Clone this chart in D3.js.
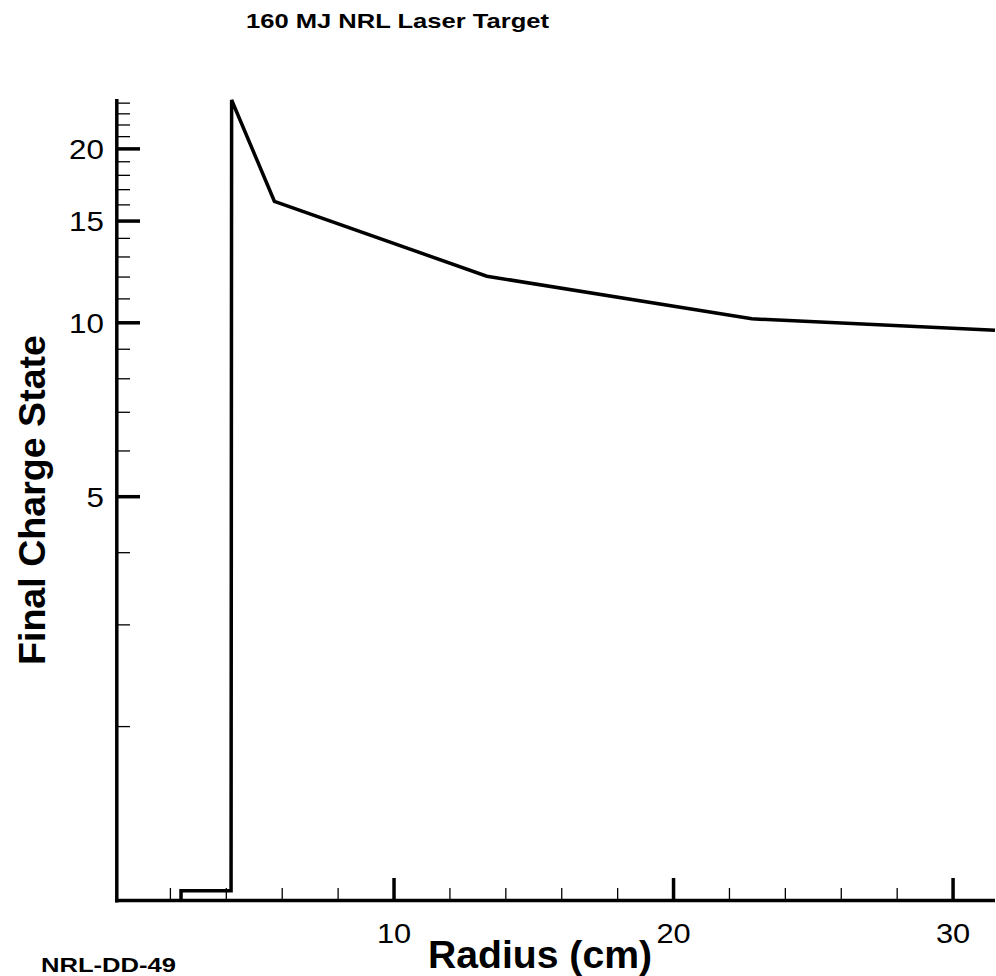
<!DOCTYPE html>
<html>
<head>
<meta charset="utf-8">
<script src="https://cdn.jsdelivr.net/npm/d3@7"></script>
<style>
  html, body { margin: 0; padding: 0; background: #fff; }
  svg { display: block; }
  text { font-family: "Liberation Sans", Arial, sans-serif; fill: #000; }
</style>
</head>
<body>
<script>
// Final charge state vs. radius (cm)
const radius = [2.38, 2.38, 4.17, 4.17, 4.19, 5.72, 13.32, 22.8, 31.5];
const charge = [1.0, 1.04, 1.04, 1.04, 24.3, 16.23, 12.04, 10.16, 9.71];

const xMajorTicks = [10, 20, 30];
const xMinorTicks = [2, 4, 6, 8, 12, 14, 16, 18, 22, 24, 26, 28];
const yMajorTicks = [5, 10, 15, 20];
const yMinorTicks = [2, 3, 4, 6, 7, 8, 9, 11, 12, 13, 14, 16, 17, 18, 19, 21, 22, 23, 24];

const W = 996, H = 976;
const svg = d3.select("body").append("svg").attr("width", W).attr("height", H);

const x = d3.scaleLinear().domain([0, 31.5]).range([114.5, 995]);
const y = d3.scaleLog().domain([1, 24.4]).range([900.5, 99]);

// tick marks drawn inward from the axes
const g = svg.append("g");
g.selectAll(".yminor").data(yMinorTicks).join("line")
  .attr("x1", 117).attr("x2", 130)
  .attr("y1", d => y(d)).attr("y2", d => y(d))
  .attr("stroke", "#000").attr("stroke-width", 1.3);
g.selectAll(".ymajor").data(yMajorTicks).join("line")
  .attr("x1", 117).attr("x2", 140)
  .attr("y1", d => y(d)).attr("y2", d => y(d))
  .attr("stroke", "#000").attr("stroke-width", 3.5);
g.selectAll(".xminor").data(xMinorTicks).join("line")
  .attr("x1", d => x(d)).attr("x2", d => x(d))
  .attr("y1", 899).attr("y2", 888)
  .attr("stroke", "#000").attr("stroke-width", 1.3);
g.selectAll(".xmajor").data(xMajorTicks).join("line")
  .attr("x1", d => x(d)).attr("x2", d => x(d))
  .attr("y1", 899).attr("y2", 878)
  .attr("stroke", "#000").attr("stroke-width", 3.5);

// axis lines
svg.append("line").attr("x1", 116.8).attr("x2", 116.8).attr("y1", 99).attr("y2", 902.5)
  .attr("stroke", "#000").attr("stroke-width", 3.5);
svg.append("line").attr("x1", 115).attr("x2", 995).attr("y1", 900.5).attr("y2", 900.5)
  .attr("stroke", "#000").attr("stroke-width", 3.5);

// tick labels (slightly widened glyphs)
svg.selectAll(".ylab").data(yMajorTicks).join("text")
  .attr("transform", d => `translate(104,${y(d) + 10}) scale(1.12,1)`)
  .attr("text-anchor", "end").attr("font-size", 28)
  .text(d => d);
svg.selectAll(".xlab").data(xMajorTicks).join("text")
  .attr("transform", d => `translate(${x(d)},943) scale(1.1,1)`)
  .attr("text-anchor", "middle").attr("font-size", 28)
  .text(d => d);

// data line
const pts = radius.map((r, i) => [r, charge[i]]);
svg.append("path")
  .attr("d", d3.line().x(d => x(d[0])).y(d => y(d[1]))(pts))
  .attr("fill", "none").attr("stroke", "#000").attr("stroke-width", 3.5)
  .attr("stroke-linejoin", "miter");

// titles
svg.append("text").attr("x", 246).attr("y", 28)
  .attr("font-size", 21).attr("font-weight", "bold")
  .attr("textLength", 303).attr("lengthAdjust", "spacingAndGlyphs")
  .text("160 MJ NRL Laser Target");
svg.append("text").attr("x", 428).attr("y", 968)
  .attr("font-size", 38).attr("font-weight", "bold")
  .attr("textLength", 224).attr("lengthAdjust", "spacingAndGlyphs")
  .text("Radius (cm)");
svg.append("text").attr("transform", "translate(45,665) rotate(-90)")
  .attr("font-size", 37).attr("font-weight", "bold")
  .attr("textLength", 330).attr("lengthAdjust", "spacingAndGlyphs")
  .text("Final Charge State");
svg.append("text").attr("x", 41).attr("y", 972)
  .attr("font-size", 20).attr("font-weight", "bold")
  .attr("textLength", 135).attr("lengthAdjust", "spacingAndGlyphs")
  .text("NRL-DD-49");
</script>
</body>
</html>
